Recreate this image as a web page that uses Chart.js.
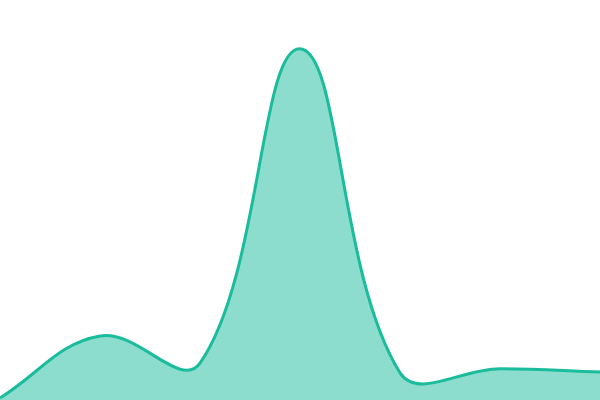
<!DOCTYPE html>
<html>
<head>
<meta charset="utf-8">
<script src="https://cdn.jsdelivr.net/npm/chart.js@4/dist/chart.umd.min.js"></script>
<style>
html,body{margin:0;padding:0;background:#fff;}
#wrap{width:600px;height:400px;}
</style>
</head>
<body>
<div id="wrap"><canvas id="c"></canvas></div>
<script>
const labels = ['1', '2', '3', '4', '5', '6', '7'];
const values = [0.5, 16.0, 9.2, 87.8, 6.8, 7.8, 7.0];

new Chart(document.getElementById('c'), {
  type: 'line',
  data: {
    labels: labels,
    datasets: [{
      data: values,
      borderColor: '#1abc9c',
      backgroundColor: 'rgba(26,188,156,0.5)',
      borderWidth: 3,
      fill: 'origin',
      pointRadius: 0,
      tension: 0.4
    }]
  },
  options: {
    responsive: true,
    maintainAspectRatio: false,
    animation: false,
    layout: {padding: 0},
    plugins: {legend: {display: false}, tooltip: {enabled: false}},
    scales: {
      x: {display: false},
      y: {min: 0, max: 100, display: false}
    }
  }
});
</script>
</body>
</html>
